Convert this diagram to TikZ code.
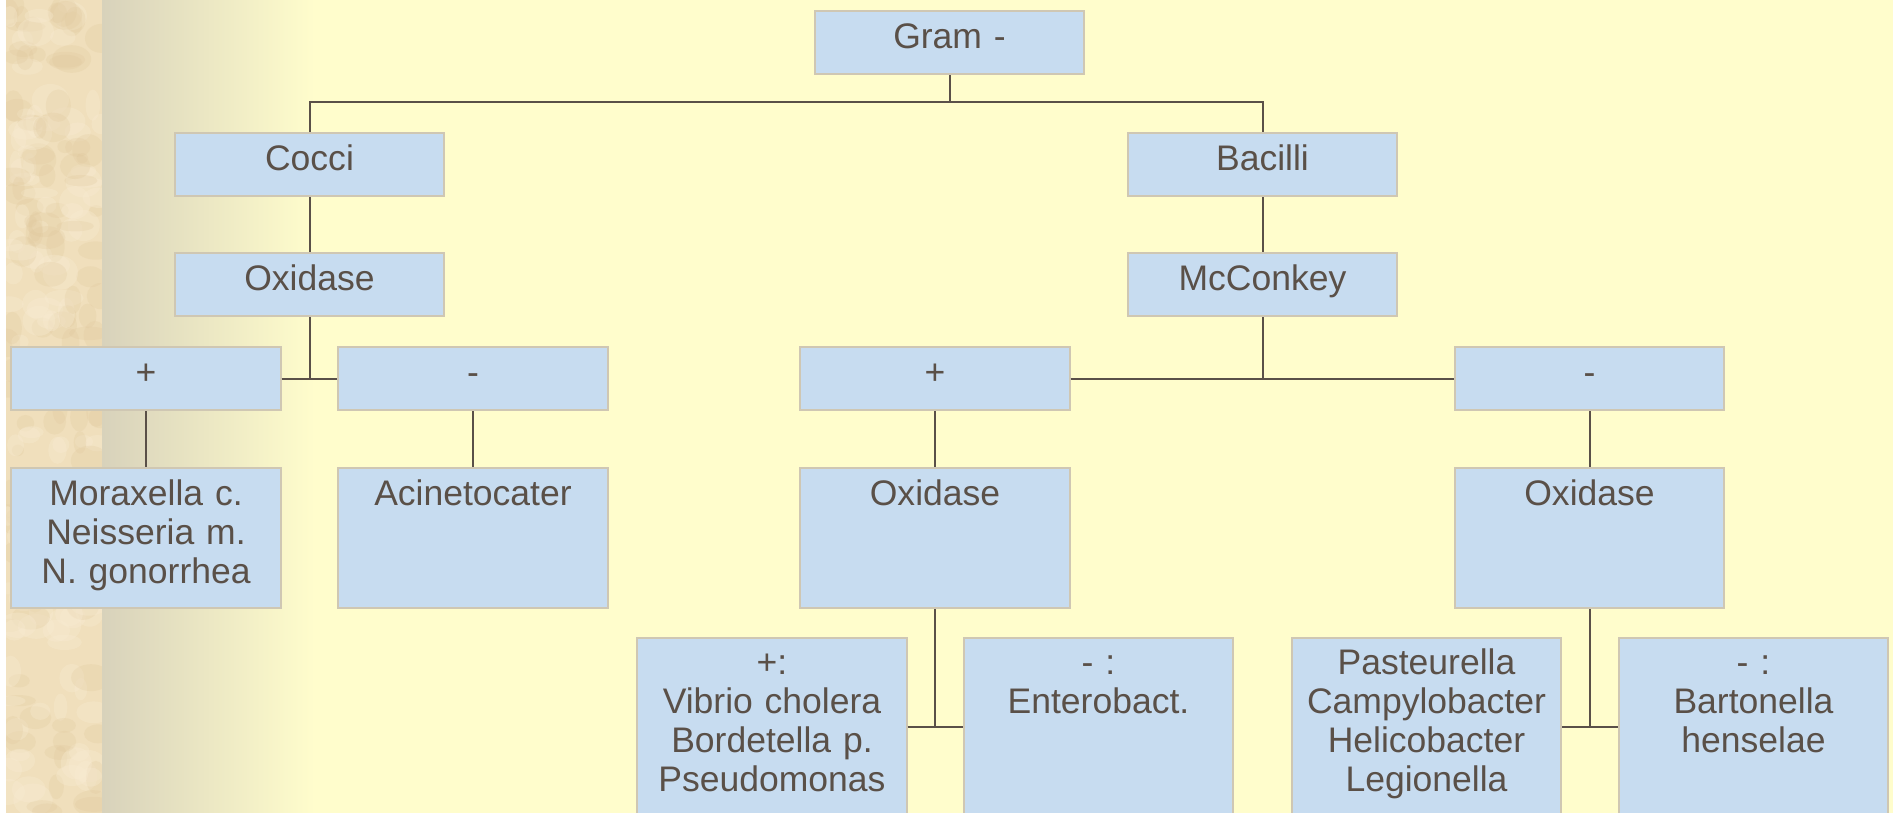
\documentclass[tikz,border=0pt]{standalone}
\usepackage{fontspec}
\setmainfont{Liberation Sans}
\usetikzlibrary{calc}
\definecolor{paper}{HTML}{FFFDCC}
\definecolor{sand}{HTML}{F0DFBC}
\definecolor{sanddark}{HTML}{E0C89C}
\definecolor{sandlight}{HTML}{F8EBD2}
\definecolor{shade}{HTML}{D8D2BB}
\definecolor{boxfill}{HTML}{C7DCF0}
\definecolor{boxline}{HTML}{CFC7B3}
\definecolor{ink}{HTML}{5A5048}
\begin{document}
\begin{tikzpicture}[x=0.01cm,y=-0.01cm,
  box/.style={draw=boxline,fill=boxfill,line width=0.02cm,inner sep=0pt,anchor=north,
    text width=2.69cm,align=center,text=ink,text height=0.37cm,text depth=0.26cm,
    font=\fontsize{10.1}{11.1}\selectfont},
  tall/.style={text depth=1.03cm},
  deep/.style={text height=0.36cm,text depth=1.42cm},
  link/.style={draw=ink,line width=0.02cm}]
  \useasboundingbox (0,0) rectangle (1893,813);
  \fill[paper] (0,0) rectangle (1893,813);
  \fill[white] (0,0) rectangle (6,813);
  \fill[sand] (6,0) rectangle (102,813);
  \begin{scope}
    \clip (6,0) rectangle (102,813);
    \pgfmathsetseed{11}
    \foreach \i in {1,...,120}{
      \fill[sanddark,opacity=0.25] (6+96*rnd,813*rnd) ellipse[x radius=6+14*rnd,y radius=5+12*rnd];
      \fill[sandlight,opacity=0.35] (6+96*rnd,813*rnd) ellipse[x radius=6+14*rnd,y radius=5+12*rnd];
    }
  \end{scope}
  \shade[left color=shade,right color=paper] (102,0) rectangle (315,813);

  \node[box] (gram) at (949.5,10) {Gram -};
  \node[box] (cocci) at (309.5,132) {Cocci};
  \node[box] (oxl) at (309.5,252) {Oxidase};
  \node[box] (plusl) at (146,346) {+};
  \node[box] (minl) at (473,346) {-};
  \node[box,tall] (morax) at (146,467) {Moraxella c.\\Neisseria m.\\N. gonorrhea};
  \node[box,tall] (acin) at (473,467) {Acinetocater};
  \node[box] (bac) at (1262.5,132) {Bacilli};
  \node[box] (mcc) at (1262.5,252) {McConkey};
  \node[box] (plusr) at (935,346) {+};
  \node[box] (minr) at (1589.5,346) {-};
  \node[box,tall] (oxm) at (935,467) {Oxidase};
  \node[box,tall] (oxr) at (1589.5,467) {Oxidase};
  \node[box,deep] (vib) at (772,637) {+:\\Vibrio cholera\\Bordetella p.\\Pseudomonas};
  \node[box,deep] (ent) at (1098.5,637) {- :\\Enterobact.};
  \node[box,deep] (past) at (1426.5,637) {Pasteurella\\Campylobacter\\Helicobacter\\Legionella};
  \node[box,deep] (bart) at (1753.5,637) {- :\\Bartonella\\henselae};

  \coordinate (top) at (949.5,102);
  \draw[link] (gram.south) -- (top);
  \draw[link] (cocci.north) |- (top) -| (bac.north);
  \draw[link] (cocci) -- (oxl);
  \draw[link] (oxl.south) -- (oxl.south |- plusl.east);
  \draw[link] (plusl.east) -- (minl.west);
  \draw[link] (plusl) -- (morax);
  \draw[link] (minl) -- (acin);
  \draw[link] (bac) -- (mcc);
  \draw[link] (mcc.south) -- (mcc.south |- plusr.east);
  \draw[link] (plusr.east) -- (minr.west);
  \draw[link] (plusr) -- (oxm);
  \draw[link] (minr) -- (oxr);
  \coordinate (jm) at ($(vib.east)!0.5!(ent.west)$);
  \draw[link] (oxm.south -| jm) -- (jm);
  \draw[link] (vib.east) -- (ent.west);
  \coordinate (jr) at ($(past.east)!0.5!(bart.west)$);
  \draw[link] (oxr.south -| jr) -- (jr);
  \draw[link] (past.east) -- (bart.west);
\end{tikzpicture}
\end{document}
